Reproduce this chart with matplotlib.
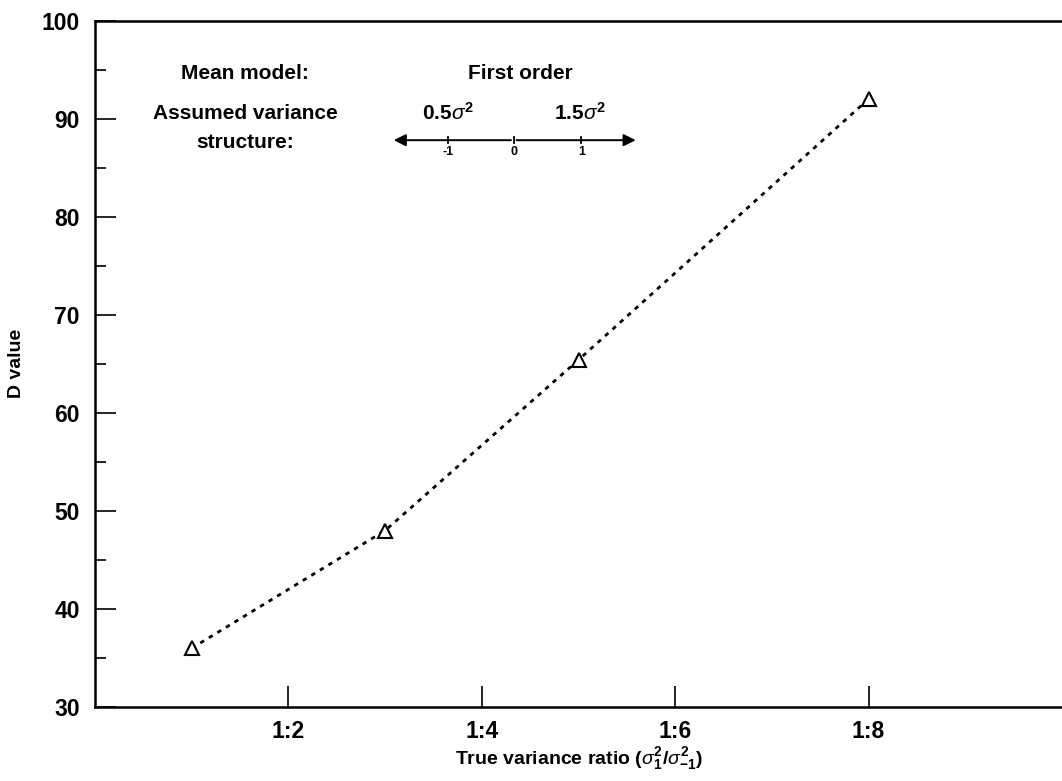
# D value against true variance ratio, first order mean model

import numpy as np
import matplotlib
matplotlib.use("Agg")
import matplotlib.pyplot as plt

plt.rcParams['font.family'] = ['Liberation Sans', 'DejaVu Sans']
plt.rcParams['mathtext.fontset'] = 'custom'
plt.rcParams['mathtext.rm'] = 'Liberation Sans:bold'
plt.rcParams['mathtext.it'] = 'Liberation Sans:italic'
plt.rcParams['mathtext.bf'] = 'Liberation Sans:bold'

# data
ratio = [1, 3, 5, 8]              # 1:1 .. 1:8 (second part of ratio)
d_value = [36.0, 48.0, 65.4, 92.0]

xtick_pos = [2, 4, 6, 8]
xtick_labels = ["1:2", "1:4", "1:6", "1:8"]

fig = plt.figure(figsize=(10.62, 7.81), dpi=100)
ax = fig.add_axes([0.0895, 0.0947, 0.9105, 0.879])

ax.plot(ratio, d_value, color="black", lw=2.0, ls=(0, (1.6, 2.0)),
        marker="^", ms=10, mfc="white", mec="black", mew=1.5)

ax.set_xlim(0, 10)
ax.set_ylim(30, 100)
ax.set_xticks(xtick_pos)
ax.set_xticklabels(xtick_labels)
ax.set_yticks(np.arange(30, 101, 10))
ax.set_yticks(np.arange(35, 100, 10), minor=True)

ax.tick_params(axis='both', which='major', direction='in', length=15, width=1.2,
               labelsize=16.5, pad=9)
ax.tick_params(axis='y', which='minor', direction='in', length=8, width=1.2)
ax.tick_params(axis='y', which='major', pad=11)
for lab in ax.get_xticklabels() + ax.get_yticklabels():
    lab.set_fontweight('bold')

ax.spines['right'].set_visible(False)
for s in ['left', 'bottom', 'top']:
    ax.spines[s].set_linewidth(1.8)

ax.set_xlabel(r"True variance ratio ($\sigma_1^2/\sigma_{-1}^2$)", fontsize=14,
              fontweight="bold", labelpad=2)
ax.set_ylabel("D value", fontsize=14, fontweight="bold", labelpad=12)

# legend-like annotation block
fs = 15
kw = dict(fontsize=fs, fontweight="bold", ha="center", va="center")
ax.text(1.55, 94.6, "Mean model:", **kw)
ax.text(4.40, 94.6, "First order", **kw)
ax.text(1.55, 90.55, "Assumed variance", **kw)
ax.text(1.55, 87.6, "structure:", **kw)
ax.text(3.65, 90.55, r"0.5$\it{\sigma}^2$", **kw)
ax.text(5.02, 90.55, r"1.5$\it{\sigma}^2$", **kw)

ax.annotate("", xy=(3.06, 87.8), xytext=(4.33, 87.8),
            arrowprops=dict(arrowstyle="-|>", color="black", lw=1.4, mutation_scale=18))
ax.annotate("", xy=(5.62, 87.8), xytext=(4.33, 87.8),
            arrowprops=dict(arrowstyle="-|>", color="black", lw=1.4, mutation_scale=18))
for xv, lab in zip([3.65, 4.33, 5.03], ["-1", "0", "1"]):
    ax.plot([xv, xv], [87.5, 88.1], color="black", lw=1.3)
    ax.text(xv, 86.6, lab, fontsize=9, fontweight="bold", ha="center", va="center")

fig.savefig("out.png", dpi=100)
